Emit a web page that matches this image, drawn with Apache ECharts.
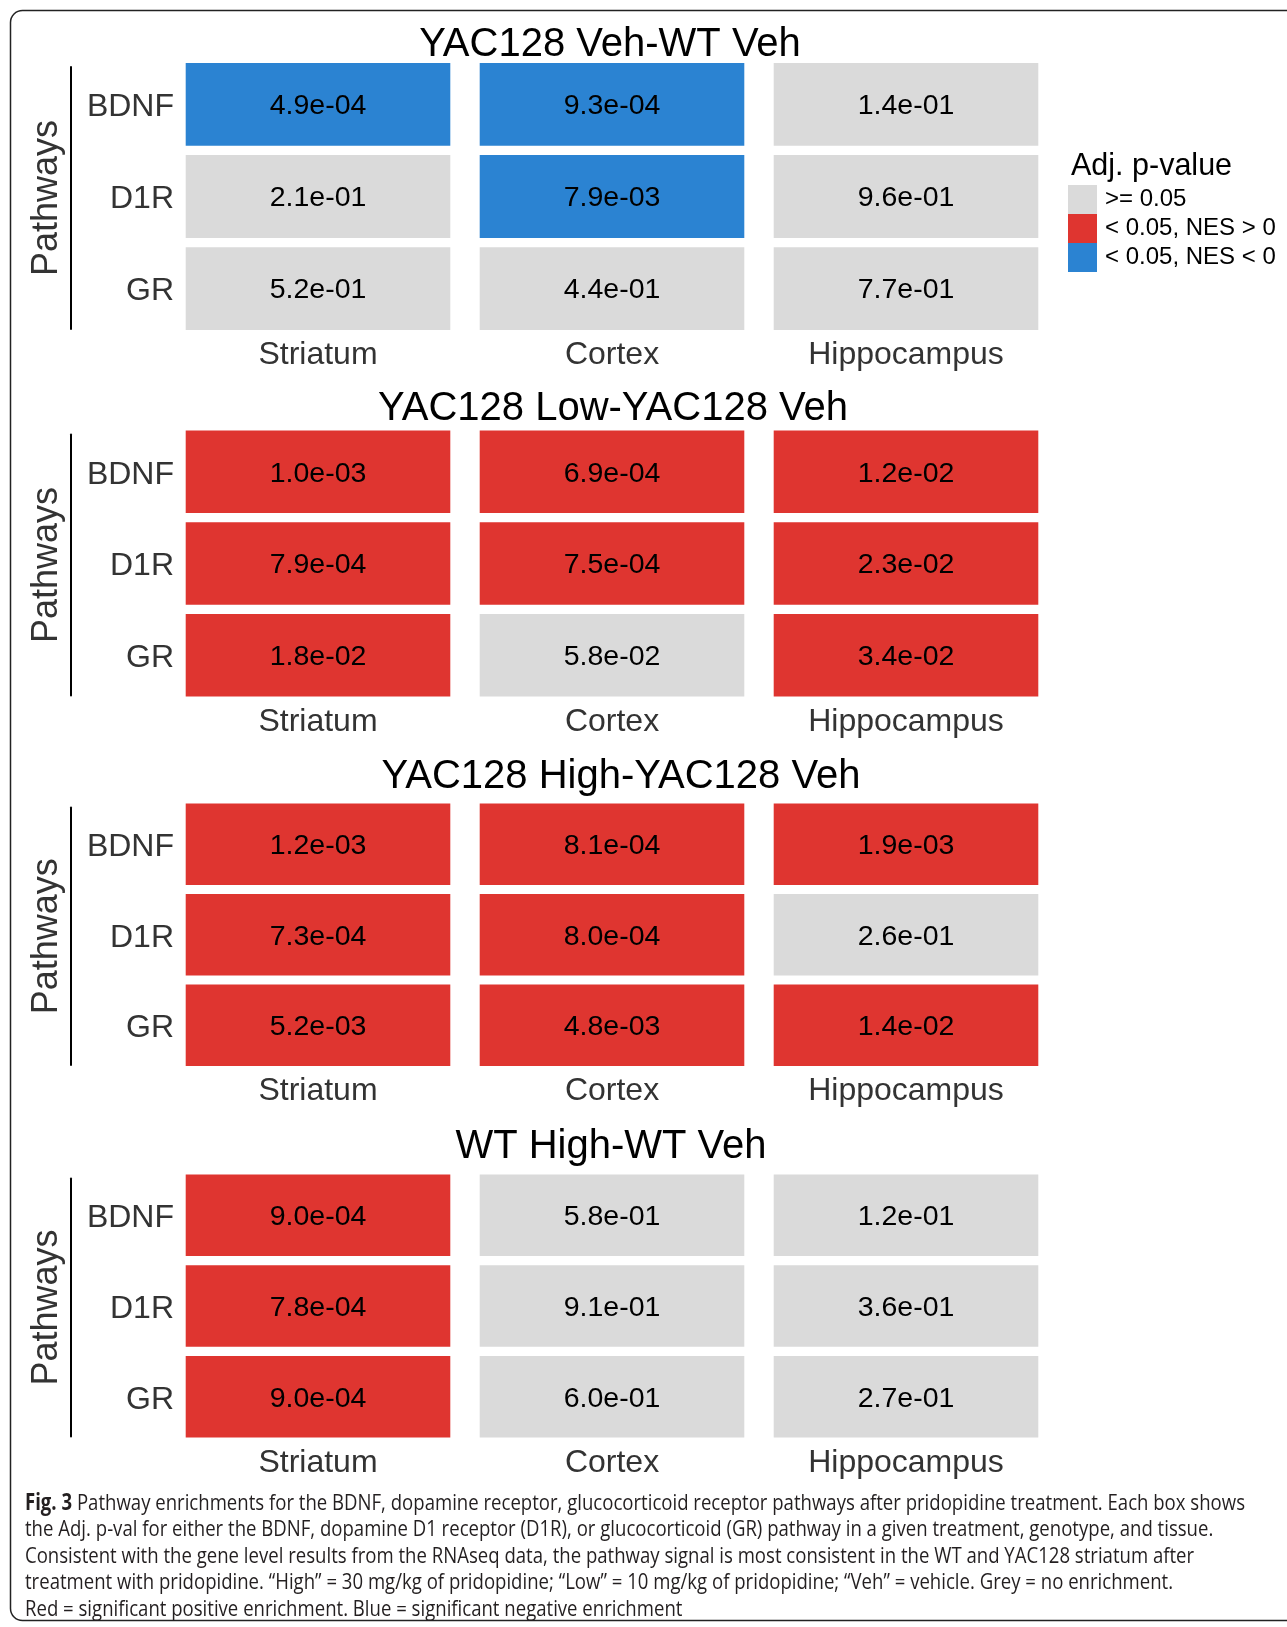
<!DOCTYPE html>
<html><head><meta charset="utf-8">
<script src="https://cdn.jsdelivr.net/npm/echarts@6/dist/echarts.min.js"></script>
<style>html,body{margin:0;padding:0;background:#fff}#chart{width:1287px;height:1627px}</style>
</head><body><div id="chart"></div>
<script>
// ---------- data ----------
const tissues = ['Striatum', 'Cortex', 'Hippocampus'];
const pathways = ['BDNF', 'D1R', 'GR'];
const comparisons = ['YAC128 Veh-WT Veh', 'YAC128 Low-YAC128 Veh', 'YAC128 High-YAC128 Veh', 'WT High-WT Veh'];
// rows: BDNF, D1R, GR ; columns: Striatum, Cortex, Hippocampus
const pYacVehWtVeh   = [[4.9e-4, 9.3e-4, 1.4e-1], [2.1e-1, 7.9e-3, 9.6e-1], [5.2e-1, 4.4e-1, 7.7e-1]];
const pYacLowYacVeh  = [[1.0e-3, 6.9e-4, 1.2e-2], [7.9e-4, 7.5e-4, 2.3e-2], [1.8e-2, 5.8e-2, 3.4e-2]];
const pYacHighYacVeh = [[1.2e-3, 8.1e-4, 1.9e-3], [7.3e-4, 8.0e-4, 2.6e-1], [5.2e-3, 4.8e-3, 1.4e-2]];
const pWtHighWtVeh   = [[9.0e-4, 5.8e-1, 1.2e-1], [7.8e-4, 9.1e-1, 3.6e-1], [9.0e-4, 6.0e-1, 2.7e-1]];
// enrichment class: ns = not significant, pos = NES > 0, neg = NES < 0
const sYacVehWtVeh   = [['neg', 'neg', 'ns'], ['ns', 'neg', 'ns'], ['ns', 'ns', 'ns']];
const sYacLowYacVeh  = [['pos', 'pos', 'pos'], ['pos', 'pos', 'pos'], ['pos', 'ns', 'pos']];
const sYacHighYacVeh = [['pos', 'pos', 'pos'], ['pos', 'pos', 'ns'], ['pos', 'pos', 'pos']];
const sWtHighWtVeh   = [['pos', 'ns', 'ns'], ['pos', 'ns', 'ns'], ['pos', 'ns', 'ns']];
const statusKeys = ['ns', 'pos', 'neg'];
const legendLabels = ['>= 0.05', '< 0.05, NES > 0', '< 0.05, NES < 0'];
const legendTitle = 'Adj. p-value';
const axisTitle = 'Pathways';
const captionLines = [
  '{b|Fig. 3} Pathway enrichments for the BDNF, dopamine receptor, glucocorticoid receptor pathways after pridopidine treatment. Each box shows',
  'the Adj. p-val for either the BDNF, dopamine D1 receptor (D1R), or glucocorticoid (GR) pathway in a given treatment, genotype, and tissue.',
  'Consistent with the gene level results from the RNAseq data, the pathway signal is most consistent in the WT and YAC128 striatum after',
  'treatment with pridopidine. \u201cHigh\u201d = 30 mg/kg of pridopidine; \u201cLow\u201d = 10 mg/kg of pridopidine; \u201cVeh\u201d = vehicle. Grey = no enrichment.',
  'Red = significant positive enrichment. Blue = significant negative enrichment'
];

const pValues = [pYacVehWtVeh, pYacLowYacVeh, pYacHighYacVeh, pWtHighWtVeh];
const statuses = [sYacVehWtVeh, sYacLowYacVeh, sYacHighYacVeh, sWtHighWtVeh];

// ---------- style / layout ----------
const FONT = '"Liberation Sans", Arial, Helvetica, sans-serif';
const CAPFONT = '"Open Sans", "Noto Sans", sans-serif';
const colors = {ns: '#DADADA', pos: '#DF3530', neg: '#2B83D2'};
const tileTop = [63, 430.5, 803.5, 1174.5];
const tileBottom = [330, 696.5, 1066, 1437.5];
const titleCenterX = [610, 613, 621, 611];
const titleCapCenter = [44.5, 409, 777, 1147];
const gridLeft = 171, gridWidth = 882;

function fmtP(v) {
  return v.toExponential(1).replace(/e([+-])(\d)$/, 'e$10$2');
}

const grids = [], xAxes = [], yAxes = [], series = [], titles = [];
comparisons.forEach((name, i) => {
  const T = tileTop[i], B = tileBottom[i];
  const band = (B - T) / 2.9;
  grids.push({left: gridLeft, width: gridWidth, top: T - 0.05 * band, height: 3 * band});
  titles.push({
    text: name, left: titleCenterX[i], top: titleCapCenter[i] - 20, textAlign: 'center',
    padding: 0,
    textStyle: {fontFamily: FONT, fontSize: 40, fontWeight: 'normal', color: '#000', lineHeight: 40}
  });
});
// line-only grids for the "Pathways" axis
comparisons.forEach((name, i) => {
  const T = tileTop[i], B = tileBottom[i];
  grids.push({left: 71, width: 10, top: T + 4, height: (B - 1) - (T + 4)});
});
comparisons.forEach((name, i) => {
  xAxes.push({
    type: 'category', gridIndex: i, data: tissues, position: 'bottom',
    axisLine: {show: false}, axisTick: {show: false}, splitLine: {show: false},
    axisLabel: {fontFamily: FONT, fontSize: 32, color: '#333', margin: 5, lineHeight: 32, interval: 0}
  });
  yAxes.push({
    type: 'category', gridIndex: i, data: pathways, inverse: true,
    axisLine: {show: false}, axisTick: {show: false}, splitLine: {show: false},
    axisLabel: {fontFamily: FONT, fontSize: 32, color: '#333', margin: -3, interval: 0,
      verticalAlign: 'top', lineHeight: 6}
  });
});
comparisons.forEach((name, i) => {
  xAxes.push({type: 'value', gridIndex: 4 + i, show: false, min: 0, max: 1});
  yAxes.push({
    type: 'value', gridIndex: 4 + i, min: 0, max: 1,
    axisLine: {show: true, onZero: false, lineStyle: {color: '#000', width: 2}},
    axisTick: {show: false}, axisLabel: {show: false}, splitLine: {show: false},
    name: axisTitle, nameLocation: 'middle', nameGap: 6, nameRotate: 90,
    nameTextStyle: {fontFamily: FONT, fontSize: 36, color: '#333'}
  });
});

function renderCell(params, api) {
  const c = api.coord([api.value(0), api.value(1)]);
  const s = api.size([1, 1]);
  const w = s[0] * 0.9, h = s[1] * 0.9;
  return {
    type: 'group',
    children: [
      {type: 'rect', shape: {x: c[0] - w / 2, y: c[1] - h / 2, width: w, height: h},
       style: {fill: api.visual('color')}},
      {type: 'text', style: {text: fmtP(api.value(2)), x: c[0], y: c[1] + 2, align: 'center',
        verticalAlign: 'middle', fontSize: 28.5, fontFamily: FONT, fill: '#000'}}
    ]
  };
}

comparisons.forEach((name, i) => {
  statusKeys.forEach((key, k) => {
    const data = [];
    pathways.forEach((pw, r) => {
      tissues.forEach((t, c) => {
        if (statuses[i][r][c] === key) data.push([c, r, pValues[i][r][c]]);
      });
    });
    series.push({
      type: 'custom', name: legendLabels[k], xAxisIndex: i, yAxisIndex: i,
      itemStyle: {color: colors[key]}, renderItem: renderCell, data: data,
      encode: {x: 0, y: 1}, silent: true
    });
  });
});

titles.push({
  text: legendTitle, left: 1071, top: 151, padding: 0,
  textStyle: {fontFamily: FONT, fontSize: 30.5, fontWeight: 'normal', color: '#000', lineHeight: 31}
});

// caption: measure to emulate the condensed journal font
const CAPSIZE = 22.5;
const mctx = document.createElement('canvas').getContext('2d');
mctx.font = 'bold ' + CAPSIZE + 'px ' + CAPFONT;
const wBold = mctx.measureText('Fig. 3').width;
mctx.font = CAPSIZE + 'px ' + CAPFONT;
const wRest = mctx.measureText(captionLines[0].replace('{b|Fig. 3}', '')).width;
const capScale = (1245 - 25) / (wBold + wRest);
const captionY = [1503.5, 1530, 1556.5, 1583, 1609.5];

const graphics = [{
  type: 'rect', silent: true, z: -1,
  shape: {x: 10.5, y: 10.5, width: 1300, height: 1610, r: 12},
  style: {fill: 'none', stroke: '#222', lineWidth: 1.5}
}];
captionLines.forEach((line, j) => {
  graphics.push({
    type: 'text', x: 25, y: captionY[j], scaleX: capScale, silent: true,
    style: {
      text: line, x: 0, y: 0, verticalAlign: 'middle', align: 'left',
      fontFamily: CAPFONT, fontSize: CAPSIZE, fill: '#231f20',
      rich: {b: {fontFamily: CAPFONT, fontSize: CAPSIZE, fontWeight: 'bold', fill: '#231f20'}}
    }
  });
});

const chart = echarts.init(document.getElementById('chart'), null, {renderer: 'canvas'});
chart.setOption({
  backgroundColor: '#fff',
  animation: false,
  title: titles,
  grid: grids,
  xAxis: xAxes,
  yAxis: yAxes,
  legend: {
    orient: 'vertical', left: 1068, top: 185, padding: 0, itemGap: 0,
    itemWidth: 29, itemHeight: 29, icon: 'rect', selectedMode: false,
    data: legendLabels,
    textStyle: {fontFamily: FONT, fontSize: 24, color: '#000', lineHeight: 29, padding: [0, 0, 0, 3]}
  },
  graphic: graphics,
  series: series
});
</script>
</body></html>
